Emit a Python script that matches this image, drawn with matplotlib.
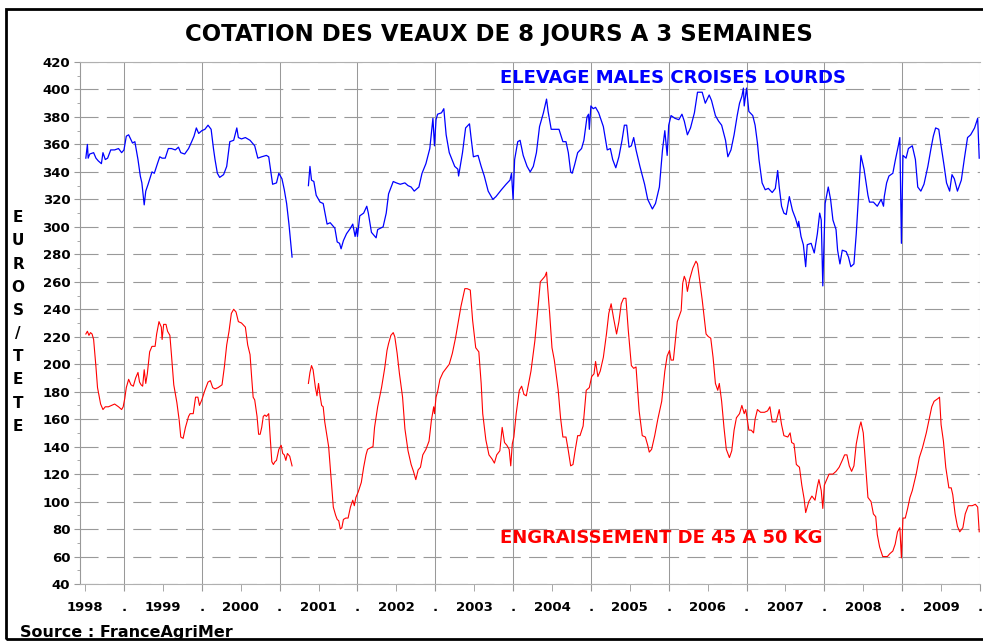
import matplotlib
matplotlib.use("Agg")
import matplotlib.pyplot as plt
from matplotlib.patches import Rectangle
import numpy as np

# weekly quotations (decimal year, euros / head)
# the series is interrupted in early 2001
blue_dates_a = [1998.51, 1998.53, 1998.54, 1998.56, 1998.61, 1998.64, 1998.67, 1998.71, 1998.73, 1998.76,
                1998.79, 1998.83, 1998.88, 1998.93, 1998.97, 1999.00, 1999.03, 1999.06, 1999.11, 1999.14,
                1999.18, 1999.21, 1999.23, 1999.26, 1999.28, 1999.31, 1999.36, 1999.39, 1999.43, 1999.46,
                1999.49, 1999.53, 1999.57, 1999.61, 1999.66, 1999.70, 1999.73, 1999.78, 1999.83, 1999.87,
                1999.90, 1999.93, 1999.96, 2000.00, 2000.04, 2000.08, 2000.12, 2000.15, 2000.17, 2000.20,
                2000.23, 2000.28, 2000.32, 2000.36, 2000.41, 2000.45, 2000.47, 2000.51, 2000.56, 2000.62,
                2000.68, 2000.72, 2000.77, 2000.83, 2000.86, 2000.89, 2000.91, 2000.96, 2000.99, 2001.03,
                2001.06, 2001.09, 2001.12, 2001.16]
blue_vals_a = [350, 360, 350, 353, 354, 350, 348, 346, 354, 349,
               350, 356, 356, 357, 354, 356, 366, 367, 361, 362,
               349, 337, 332, 316, 326, 331, 340, 339, 346, 351,
               350, 350, 357, 357, 356, 358, 354, 353, 357, 362,
               366, 372, 368, 370, 371, 374, 371, 357, 349, 339,
               336, 338, 344, 362, 363, 372, 365, 364, 365, 363,
               359, 350, 351, 352, 351, 339, 331, 332, 339, 335,
               327, 317, 302, 278]

blue_dates_b = [2001.37, 2001.39, 2001.41, 2001.44, 2001.47, 2001.52, 2001.56, 2001.61, 2001.65, 2001.71,
                2001.74, 2001.77, 2001.79, 2001.82, 2001.86, 2001.91, 2001.94, 2001.97, 2001.99, 2002.00,
                2002.03, 2002.08, 2002.12, 2002.14, 2002.18, 2002.24, 2002.26, 2002.33, 2002.37, 2002.40,
                2002.46, 2002.50, 2002.55, 2002.61, 2002.65, 2002.69, 2002.73, 2002.79, 2002.83, 2002.88,
                2002.93, 2002.97, 2002.99, 2003.01, 2003.03, 2003.08, 2003.11, 2003.14, 2003.18, 2003.25,
                2003.29, 2003.30, 2003.35, 2003.39, 2003.44, 2003.46, 2003.49, 2003.55, 2003.59, 2003.63,
                2003.68, 2003.74, 2003.78, 2003.85, 2003.91, 2003.96, 2003.98, 2004.00, 2004.02, 2004.06,
                2004.09, 2004.13, 2004.18, 2004.22, 2004.26, 2004.30, 2004.34, 2004.39, 2004.43, 2004.45,
                2004.49, 2004.59, 2004.64, 2004.68, 2004.71, 2004.74, 2004.76, 2004.79, 2004.83, 2004.88,
                2004.91, 2004.95, 2004.97, 2004.98, 2005.00, 2005.03, 2005.06, 2005.10, 2005.16, 2005.21,
                2005.25, 2005.28, 2005.32, 2005.36, 2005.40, 2005.43, 2005.46, 2005.49, 2005.52, 2005.55,
                2005.58, 2005.63, 2005.69, 2005.73, 2005.79, 2005.83, 2005.88, 2005.92, 2005.95, 2005.98,
                2006.00, 2006.03, 2006.08, 2006.13, 2006.17, 2006.20, 2006.24, 2006.28, 2006.33, 2006.37,
                2006.43, 2006.47, 2006.52, 2006.55, 2006.60, 2006.64, 2006.68, 2006.73, 2006.76, 2006.80,
                2006.84, 2006.88, 2006.91, 2006.94, 2006.96, 2006.97, 2007.00, 2007.03, 2007.08, 2007.11,
                2007.14, 2007.16, 2007.20, 2007.24, 2007.28, 2007.33, 2007.37, 2007.40, 2007.42, 2007.45,
                2007.48, 2007.51, 2007.55, 2007.59, 2007.63, 2007.66, 2007.67, 2007.70, 2007.73, 2007.76,
                2007.78, 2007.83, 2007.87, 2007.91, 2007.94, 2007.96, 2007.98, 2008.01, 2008.05, 2008.08,
                2008.11, 2008.15, 2008.17, 2008.20, 2008.23, 2008.28, 2008.31, 2008.34, 2008.38, 2008.41,
                2008.44, 2008.47, 2008.51, 2008.56, 2008.58, 2008.63, 2008.68, 2008.73, 2008.76, 2008.77,
                2008.80, 2008.83, 2008.88, 2008.91, 2008.95, 2008.97, 2008.99, 2009.01, 2009.05, 2009.08,
                2009.13, 2009.17, 2009.20, 2009.24, 2009.28, 2009.33, 2009.37, 2009.40, 2009.43, 2009.47,
                2009.50, 2009.54, 2009.57, 2009.61, 2009.64, 2009.67, 2009.71, 2009.76, 2009.80, 2009.84,
                2009.88, 2009.93, 2009.97, 2009.99]
blue_vals_b = [330, 344, 334, 333, 323, 318, 317, 302, 303, 299,
               289, 288, 284, 290, 295, 299, 302, 293, 299, 293,
               308, 310, 315, 310, 296, 292, 298, 300, 310, 324,
               333, 332, 331, 332, 330, 329, 326, 329, 339, 346,
               357, 379, 359, 378, 382, 383, 386, 367, 354, 344,
               342, 337, 354, 372, 375, 365, 351, 352, 344, 337,
               326, 320, 322, 327, 331, 334, 339, 320, 349, 362,
               363, 352, 344, 340, 344, 354, 373, 383, 393, 384,
               371, 371, 362, 362, 354, 340, 339, 345, 354, 357,
               363, 380, 382, 371, 388, 386, 387, 383, 373, 356,
               357, 349, 343, 351, 363, 374, 374, 358, 359, 365,
               356, 344, 331, 320, 313, 317, 329, 356, 370, 352,
               374, 381, 379, 378, 382, 377, 367, 372, 383, 398,
               398, 390, 396, 392, 381, 377, 374, 363, 351, 356,
               367, 381, 390, 395, 401, 388, 401, 384, 381, 374,
               361, 349, 332, 327, 328, 325, 328, 341, 329, 315,
               310, 309, 322, 312, 306, 300, 304, 293, 287, 271,
               287, 288, 281, 295, 310, 305, 257, 317, 329, 320,
               305, 298, 283, 273, 283, 282, 278, 271, 273, 295,
               324, 352, 342, 323, 318, 318, 315, 320, 315, 322,
               332, 337, 339, 348, 359, 365, 288, 352, 350, 357,
               359, 349, 329, 326, 331, 344, 357, 366, 372, 371,
               359, 344, 332, 326, 338, 335, 326, 334, 350, 365,
               367, 372, 379, 350]

red_dates_a = [1998.51, 1998.53, 1998.55, 1998.57, 1998.59, 1998.61, 1998.64, 1998.66, 1998.68, 1998.70,
               1998.73, 1998.76, 1998.80, 1998.84, 1998.88, 1998.93, 1998.97, 1998.99, 1999.01, 1999.03,
               1999.06, 1999.09, 1999.12, 1999.15, 1999.18, 1999.20, 1999.22, 1999.24, 1999.26, 1999.28,
               1999.30, 1999.33, 1999.36, 1999.40, 1999.42, 1999.45, 1999.48, 1999.49, 1999.51, 1999.54,
               1999.56, 1999.59, 1999.61, 1999.64, 1999.68, 1999.71, 1999.73, 1999.76, 1999.79, 1999.83,
               1999.85, 1999.89, 1999.92, 1999.95, 1999.97, 2000.00, 2000.04, 2000.08, 2000.11, 2000.14,
               2000.17, 2000.21, 2000.26, 2000.29, 2000.32, 2000.35, 2000.38, 2000.41, 2000.44, 2000.47,
               2000.51, 2000.56, 2000.59, 2000.62, 2000.64, 2000.66, 2000.68, 2000.71, 2000.73, 2000.75,
               2000.77, 2000.79, 2000.81, 2000.83, 2000.86, 2000.88, 2000.90, 2000.92, 2000.94, 2000.96,
               2000.99, 2001.02, 2001.04, 2001.06, 2001.08, 2001.10, 2001.13, 2001.16]
red_vals_a = [222, 224, 221, 223, 222, 218, 198, 183, 177, 171,
              167, 169, 169, 170, 171, 169, 167, 169, 175, 183,
              189, 185, 184, 190, 194, 187, 185, 184, 196, 186,
              193, 209, 213, 213, 222, 231, 227, 218, 229, 229,
              224, 221, 207, 185, 172, 159, 147, 146, 154, 162,
              164, 164, 176, 176, 170, 174, 181, 187, 188, 183,
              182, 183, 185, 198, 214, 224, 237, 240, 238, 231,
              230, 227, 214, 207, 191, 176, 174, 162, 149, 149,
              154, 162, 163, 162, 164, 146, 129, 127, 129, 130,
              138, 141, 135, 134, 130, 135, 133, 126]

red_dates_b = [2001.37, 2001.39, 2001.41, 2001.43, 2001.46, 2001.48, 2001.50, 2001.52, 2001.54, 2001.56,
               2001.58, 2001.61, 2001.63, 2001.65, 2001.67, 2001.69, 2001.72, 2001.74, 2001.76, 2001.78,
               2001.80, 2001.82, 2001.85, 2001.88, 2001.91, 2001.94, 2001.96, 2001.98, 2002.01, 2002.05,
               2002.08, 2002.11, 2002.13, 2002.16, 2002.20, 2002.22, 2002.26, 2002.31, 2002.35, 2002.38,
               2002.40, 2002.43, 2002.46, 2002.48, 2002.51, 2002.54, 2002.58, 2002.61, 2002.65, 2002.69,
               2002.72, 2002.75, 2002.78, 2002.81, 2002.84, 2002.88, 2002.92, 2002.95, 2002.98, 2002.99,
               2003.01, 2003.03, 2003.06, 2003.10, 2003.14, 2003.18, 2003.22, 2003.26, 2003.30, 2003.33,
               2003.38, 2003.41, 2003.45, 2003.48, 2003.52, 2003.56, 2003.59, 2003.61, 2003.65, 2003.69,
               2003.73, 2003.76, 2003.79, 2003.83, 2003.86, 2003.89, 2003.92, 2003.95, 2003.97, 2003.99,
               2004.01, 2004.04, 2004.08, 2004.11, 2004.14, 2004.17, 2004.20, 2004.23, 2004.28, 2004.32,
               2004.35, 2004.38, 2004.41, 2004.43, 2004.44, 2004.47, 2004.50, 2004.53, 2004.58, 2004.61,
               2004.64, 2004.68, 2004.71, 2004.74, 2004.77, 2004.80, 2004.83, 2004.86, 2004.90, 2004.94,
               2004.98, 2005.01, 2005.04, 2005.06, 2005.09, 2005.12, 2005.16, 2005.20, 2005.23, 2005.26,
               2005.29, 2005.33, 2005.36, 2005.39, 2005.42, 2005.45, 2005.48, 2005.52, 2005.55, 2005.58,
               2005.62, 2005.66, 2005.70, 2005.73, 2005.75, 2005.78, 2005.82, 2005.86, 2005.91, 2005.95,
               2005.98, 2006.01, 2006.03, 2006.06, 2006.11, 2006.16, 2006.18, 2006.20, 2006.22, 2006.24,
               2006.27, 2006.31, 2006.35, 2006.37, 2006.40, 2006.43, 2006.48, 2006.51, 2006.54, 2006.57,
               2006.60, 2006.63, 2006.65, 2006.68, 2006.71, 2006.74, 2006.78, 2006.81, 2006.84, 2006.87,
               2006.91, 2006.94, 2006.97, 2006.99, 2007.03, 2007.06, 2007.09, 2007.11, 2007.14, 2007.18,
               2007.23, 2007.27, 2007.30, 2007.33, 2007.38, 2007.42, 2007.45, 2007.48, 2007.53, 2007.56,
               2007.58, 2007.61, 2007.64, 2007.68, 2007.71, 2007.74, 2007.76, 2007.80, 2007.84, 2007.88,
               2007.91, 2007.93, 2007.96, 2007.98, 2008.00, 2008.03, 2008.06, 2008.11, 2008.15, 2008.19,
               2008.23, 2008.26, 2008.29, 2008.32, 2008.35, 2008.38, 2008.41, 2008.45, 2008.47, 2008.50,
               2008.53, 2008.56, 2008.60, 2008.63, 2008.66, 2008.68, 2008.71, 2008.75, 2008.78, 2008.81,
               2008.84, 2008.88, 2008.91, 2008.94, 2008.97, 2008.99, 2009.01, 2009.04, 2009.07, 2009.10,
               2009.13, 2009.18, 2009.22, 2009.26, 2009.31, 2009.34, 2009.38, 2009.41, 2009.46, 2009.48,
               2009.50, 2009.53, 2009.56, 2009.60, 2009.63, 2009.65, 2009.68, 2009.71, 2009.74, 2009.78,
               2009.81, 2009.85, 2009.90, 2009.94, 2009.97, 2009.99]
red_vals_b = [186, 194, 199, 196, 183, 177, 186, 177, 170, 169,
              158, 147, 140, 125, 110, 96, 90, 87, 86, 80,
              81, 87, 88, 88, 96, 101, 97, 103, 107, 114,
              125, 134, 138, 139, 140, 154, 169, 183, 197, 210,
              215, 221, 223, 220, 208, 193, 176, 153, 137, 127,
              122, 116, 123, 125, 134, 138, 144, 159, 169, 164,
              176, 180, 189, 194, 197, 200, 208, 219, 232, 242,
              255, 255, 254, 232, 212, 209, 186, 164, 145, 134,
              131, 128, 134, 137, 154, 143, 141, 138, 126, 142,
              147, 164, 181, 184, 178, 177, 186, 195, 217, 241,
              260, 262, 264, 267, 259, 237, 212, 203, 181, 161,
              147, 147, 137, 126, 127, 138, 148, 148, 155, 181,
              183, 191, 193, 202, 191, 195, 205, 222, 237, 244,
              234, 222, 231, 244, 248, 248, 225, 199, 197, 198,
              166, 148, 147, 141, 136, 138, 148, 160, 173, 195,
              206, 210, 203, 203, 231, 239, 259, 264, 261, 253,
              262, 270, 275, 273, 260, 247, 222, 220, 219, 205,
              186, 181, 186, 173, 154, 138, 132, 137, 152, 161,
              164, 170, 164, 167, 152, 152, 150, 160, 167, 165,
              165, 166, 169, 158, 158, 167, 156, 148, 147, 150,
              143, 142, 127, 125, 112, 102, 92, 100, 104, 101,
              111, 116, 108, 95, 112, 116, 120, 120, 122, 125,
              130, 134, 134, 126, 122, 126, 142, 154, 158, 150,
              127, 103, 100, 91, 89, 76, 67, 60, 60, 60,
              62, 64, 69, 78, 81, 59, 88, 88, 95, 103,
              108, 120, 132, 139, 150, 158, 169, 173, 175, 176,
              156, 144, 125, 110, 110, 105, 91, 82, 78, 81,
              91, 97, 97, 98, 96, 78]

year_labels = [str(y) for y in range(1998, 2010)]
y_ticks = list(range(40, 421, 20))

W, H = 983, 641
fig = plt.figure(figsize=(W / 100, H / 100), dpi=100)
plt.rcParams['lines.scale_dashes'] = False
ax = fig.add_axes([80 / W, 1 - 584 / H, 900 / W, 522 / H])

ax.plot(blue_dates_a, blue_vals_a, color='#0000ff', lw=0.9)
ax.plot(blue_dates_b, blue_vals_b, color='#0000ff', lw=0.9)
ax.plot(red_dates_a, red_vals_a, color='#ff0000', lw=0.8)
ax.plot(red_dates_b, red_vals_b, color='#ff0000', lw=0.8)

ax.set_xlim(1998.435, 2010.0)
ax.set_ylim(40, 420)

# year boundaries carry a dot, mid-years carry the year
ax.set_xticks(range(1999, 2011))
ax.set_xticklabels(['.'] * 12)
ax.set_xticks([y + 0.5 for y in range(1998, 2010)], minor=True)
ax.set_xticklabels(year_labels, minor=True)
ax.set_yticks(y_ticks)
ax.set_yticks(range(40, 421, 10), minor=True)

for lab in ax.get_xticklabels(which='both') + ax.get_yticklabels():
    lab.set_fontweight('bold')
    lab.set_fontsize(9.5)
ax.tick_params(axis='x', which='both', length=5, color='#999999', pad=7)
ax.tick_params(axis='y', which='major', length=4, color='#999999', pad=3)
ax.tick_params(axis='y', which='minor', length=2.5, color='#999999')

ax.grid(axis='x', which='major', color='#999999', lw=0.75, ls='-')
ax.grid(axis='y', which='major', color='#999999', lw=0.8, ls=(0, (13, 6)))
for s in ax.spines.values():
    s.set_color('#b0b0b0')
    s.set_linewidth(0.8)
ax.spines['left'].set_color('#999999')
ax.spines['right'].set_visible(False)

fig.text(499 / W, 1 - 35 / H, 'COTATION DES VEAUX DE 8 JOURS A 3 SEMAINES',
         ha='center', va='center', fontsize=16.5, fontweight='bold')
fig.text(500 / W, 1 - 78 / H, 'ELEVAGE MALES CROISES LOURDS', color='#0000ff',
         ha='left', va='center', fontsize=13, fontweight='bold')
fig.text(500 / W, 1 - 538 / H, 'ENGRAISSEMENT DE 45 A 50 KG', color='#ff0000',
         ha='left', va='center', fontsize=13, fontweight='bold')
fig.text(18 / W, 1 - 322 / H, 'E\nU\nR\nO\nS\n/\nT\nE\nT\nE',
         ha='center', va='center', fontsize=11, fontweight='bold', linespacing=1.68)
fig.text(20 / W, 1 - 632 / H, 'Source : FranceAgriMer',
         ha='left', va='center', fontsize=11.5, fontweight='bold')

fig.add_artist(Rectangle((6 / W, 1 - 639 / H), 1.0, 630 / H, transform=fig.transFigure,
                         fill=False, ec='black', lw=2))

fig.savefig('out.png', dpi=100)
